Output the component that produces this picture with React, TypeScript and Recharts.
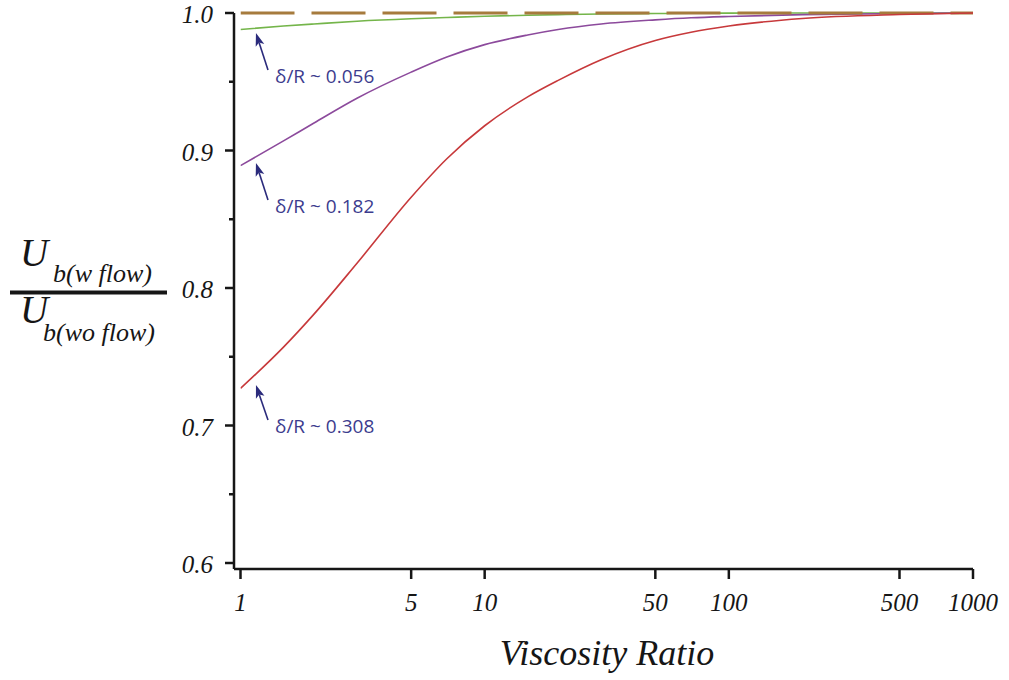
import { LineChart, Line, XAxis, YAxis, ReferenceLine } from "recharts";

// viscosity ratio samples
const viscosityRatio = [1, 1.5, 2, 3, 5, 7, 10, 15, 20, 30, 50, 70, 100, 200, 500, 1000];
const thinFilm = [0.988, 0.9905, 0.992, 0.994, 0.9958, 0.9967, 0.9976, 0.9984, 0.9988, 0.9993, 0.9996, 0.9998, 0.9999, 1.0, 1.0, 1.0];
const midFilm = [0.889, 0.907, 0.92, 0.938, 0.957, 0.968, 0.977, 0.984, 0.988, 0.992, 0.995, 0.9965, 0.9975, 0.9988, 0.9996, 1.0];
const thickFilm = [0.727, 0.757, 0.781, 0.818, 0.866, 0.894, 0.918, 0.939, 0.951, 0.966, 0.98, 0.986, 0.9905, 0.996, 0.9989, 1.0];
const noFlowX = [1, 1000];
const noFlowY = [1, 1];

const xTicks = [1, 5, 10, 50, 100, 500, 1000];
const yTicks = [0.6, 0.65, 0.7, 0.75, 0.8, 0.85, 0.9, 0.95, 1.0];

const annotations = [
  { text: "δ/R ~ 0.056", tail: { x: 1.296, y: 0.9586 }, tip: { x: 1.157, y: 0.9855 } },
  { text: "δ/R ~ 0.182", tail: { x: 1.296, y: 0.864 }, tip: { x: 1.157, y: 0.8909 } },
  { text: "δ/R ~ 0.308", tail: { x: 1.296, y: 0.704 }, tip: { x: 1.157, y: 0.7295 } },
];

const INK = "#161616";
const ARROW = "#2b2b7c";
const SERIF = "'Liberation Serif', 'DejaVu Serif', serif";

const toPoints = (xs: number[], ys: number[]) => xs.map((x, i) => ({ x, y: ys[i] }));

function YTick(props: any) {
  const { x, y, payload } = props;
  const major = Math.round(payload.value * 100) % 10 === 0;
  return (
    <g>
      <line x1={x - (major ? 9 : 5)} x2={x} y1={y} y2={y} stroke={INK} strokeWidth={2.5} />
      {major && (
        <text x={x - 21} y={y} dy={10} textAnchor="end" fontFamily={SERIF} fontStyle="italic" fontSize={25} fill={INK}>
          {payload.value.toFixed(1)}
        </text>
      )}
    </g>
  );
}

const FractionLabel = () => (
  <g fontFamily={SERIF} fontStyle="italic" fill={INK}>
    <text x={20} y={266} fontSize={39}>U</text>
    <text x={53} y={282} fontSize={26}>b(w flow)</text>
    <rect x={10} y={290.5} width={157} height={4} fill={INK} />
    <text x={20} y={323} fontSize={39}>U</text>
    <text x={43} y={341} fontSize={26}>b(wo flow)</text>
  </g>
);

const XTitle = () => (
  <text x={607} y={665} textAnchor="middle" fontFamily={SERIF} fontStyle="italic" fontSize={36} fill={INK}>
    Viscosity Ratio
  </text>
);

const arrowShape = (text: string) => (props: any) => {
  const { x1, y1, x2, y2 } = props;
  const ang = Math.atan2(y2 - y1, x2 - x1);
  const len = 13;
  const half = 4.5;
  const bx = x2 - len * Math.cos(ang);
  const by = y2 - len * Math.sin(ang);
  const px = -Math.sin(ang) * half;
  const py = Math.cos(ang) * half;
  const nx = x2 - (len - 3) * Math.cos(ang);
  const ny = y2 - (len - 3) * Math.sin(ang);
  return (
    <g>
      <line x1={x1} y1={y1} x2={nx} y2={ny} stroke={ARROW} strokeWidth={1.6} />
      <polygon points={`${x2},${y2} ${bx + px},${by + py} ${nx},${ny} ${bx - px},${by - py}`} fill={ARROW} />
      <text x={x1 + 7} y={y1 + 13} fontFamily="'Open Sans', 'Noto Sans', sans-serif" fontSize={19} fill="#3c3c8e">
        {text}
      </text>
    </g>
  );
};

export default function App() {
  return (
    <div style={{ position: "absolute", left: 0, top: 0, width: 1009, height: 680, background: "#fff" }}>
      <LineChart width={1009} height={680} margin={{ top: 13, right: 36, left: 0, bottom: 0 }}>
        <XAxis
          dataKey="x"
          type="number"
          scale="log"
          domain={[1, 1000]}
          ticks={xTicks}
          interval={0}
          allowDataOverflow
          padding={{ left: 6.5, right: 0 }}
          height={111}
          tickSize={10}
          tickMargin={14}
          axisLine={{ stroke: INK, strokeWidth: 2.5 }}
          tickLine={{ stroke: INK, strokeWidth: 2.5 }}
          tick={{ fontFamily: SERIF, fontStyle: "italic", fontSize: 25, fill: INK }}
          label={{ content: () => <XTitle /> }}
        />
        <YAxis
          type="number"
          domain={[0.6, 1]}
          ticks={yTicks}
          interval={0}
          width={234}
          padding={{ top: 0, bottom: 6 }}
          tickSize={0}
          tickMargin={0}
          tickLine={false}
          axisLine={{ stroke: INK, strokeWidth: 2.5 }}
          tick={<YTick />}
          label={{ content: () => <FractionLabel /> }}
        />
        <Line data={toPoints(viscosityRatio, thinFilm)} dataKey="y" type="monotone" stroke="#74b54a" strokeWidth={1.6} dot={false} isAnimationActive={false} />
        <Line data={toPoints(viscosityRatio, midFilm)} dataKey="y" type="monotone" stroke="#8c4a9c" strokeWidth={1.6} dot={false} isAnimationActive={false} />
        <Line data={toPoints(noFlowX, noFlowY)} dataKey="y" type="linear" stroke="#a67b3d" strokeWidth={3} strokeDasharray="54 17" dot={false} isAnimationActive={false} />
        <Line data={toPoints(viscosityRatio, thickFilm)} dataKey="y" type="monotone" stroke="#c7393b" strokeWidth={1.6} dot={false} isAnimationActive={false} />
        {annotations.map((a) => (
          <ReferenceLine key={a.text} segment={[a.tail, a.tip]} shape={arrowShape(a.text)} />
        ))}
      </LineChart>
    </div>
  );
}
